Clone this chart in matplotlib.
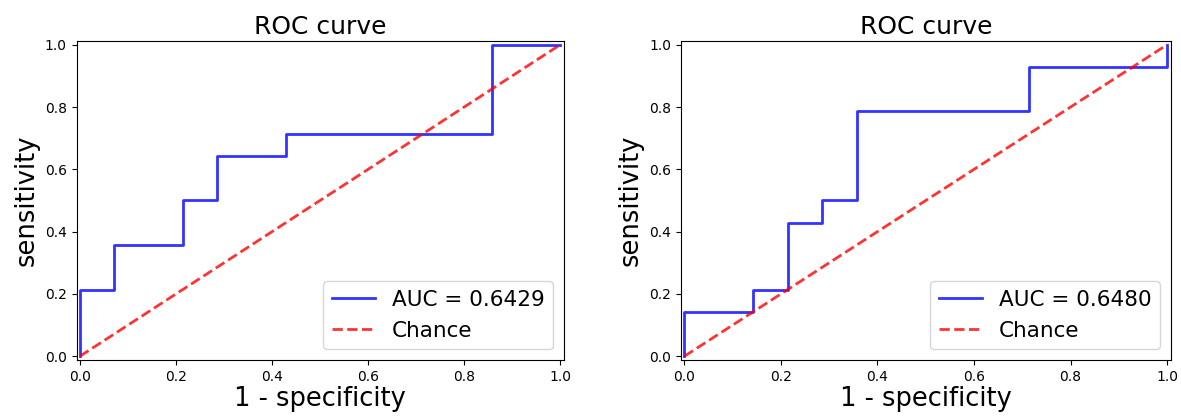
import matplotlib
matplotlib.use("Agg")
import matplotlib.pyplot as plt

# Left ROC curve (values in 14ths)
fpr_left = [0, 0, 1/14, 1/14, 3/14, 3/14, 4/14, 4/14, 6/14, 6/14, 12/14, 12/14, 1]
tpr_left = [0, 3/14, 3/14, 5/14, 5/14, 7/14, 7/14, 9/14, 9/14, 10/14, 10/14, 1, 1]
auc_left = 0.6429

# Right ROC curve
fpr_right = [0, 0, 2/14, 2/14, 3/14, 3/14, 4/14, 4/14, 5/14, 5/14, 10/14, 10/14, 1, 1]
tpr_right = [0, 2/14, 2/14, 3/14, 3/14, 6/14, 6/14, 7/14, 7/14, 11/14, 11/14, 13/14, 13/14, 1]
auc_right = 0.6480

chance = [0, 1]

fig = plt.figure(figsize=(11.81, 4.17), dpi=100)
ax1 = fig.add_axes([0.0648, 0.1367, 0.4128, 0.765])
ax2 = fig.add_axes([0.5766, 0.1367, 0.4149, 0.765])

for ax, fpr, tpr, auc in [(ax1, fpr_left, tpr_left, auc_left),
                          (ax2, fpr_right, tpr_right, auc_right)]:
    ax.plot(fpr, tpr, color='b', lw=2, alpha=0.8, label='AUC = %0.4f' % auc)
    ax.plot(chance, chance, linestyle='--', color='r', lw=2, alpha=0.8, label='Chance')
    ax.set_xlim([-0.007, 1.008])
    ax.set_ylim([-0.012, 1.012])
    ax.set_title('ROC curve', fontsize=18, pad=5)
    ax.set_xlabel('1 - specificity', fontsize=18.5, labelpad=2)
    ax.set_ylabel('sensitivity', fontsize=18.5)
    ax.tick_params(labelsize=10)
    ax.legend(loc='lower right', fontsize=15.5)

fig.savefig('out.png', dpi=100)
